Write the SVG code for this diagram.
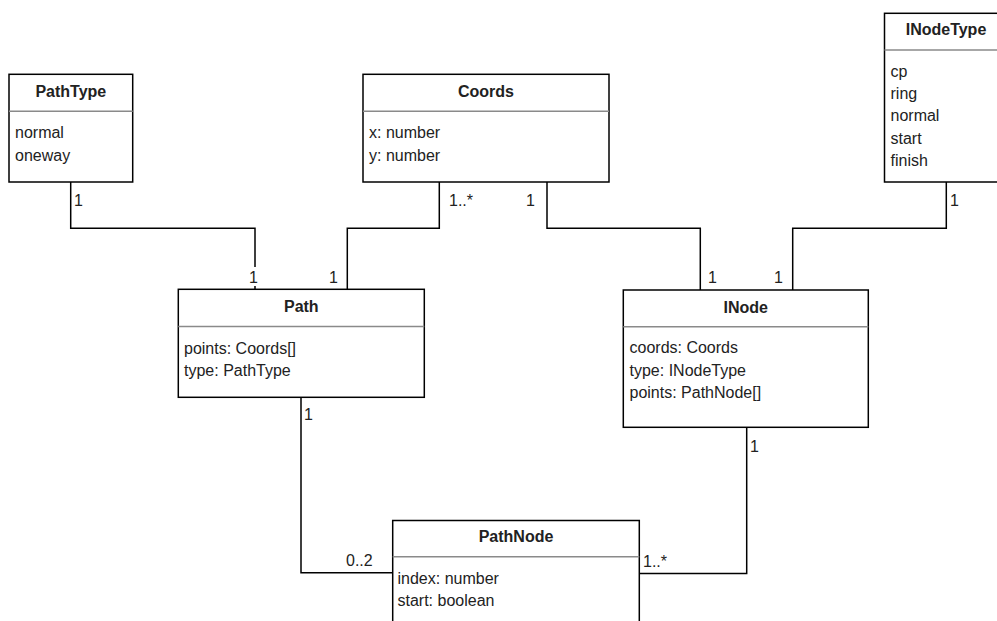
<svg xmlns="http://www.w3.org/2000/svg" width="997" height="621" viewBox="0 0 997 621">
<style>
.box{fill:#fff;stroke:#000;stroke-width:1.5}
.div{stroke:#8a8a8a;stroke-width:1.5}
.title{font-family:"Liberation Sans",Arial,sans-serif;font-size:16px;font-weight:bold;fill:#222;text-anchor:middle}
.attr{font-family:"Liberation Sans",Arial,sans-serif;font-size:16px;fill:#222}
.lbl{font-family:"Liberation Sans",Arial,sans-serif;font-size:16px;fill:#222}
.edge{fill:none;stroke:#000;stroke-width:1.5}
</style>
<rect width="997" height="621" fill="#fff"/>
<g id="connectors">
<path class="edge" d="M70.7,182 V228.3 H255 V289.3"/>
<rect x="248" y="267" width="12" height="19" fill="#fff"/>
<path class="edge" d="M439.3,182 V228.3 H347.3 V289.3"/>
<path class="edge" d="M547,182 V228.3 H700.3 V290"/>
<path class="edge" d="M946.3,182 V228.3 H792.7 V290"/>
<path class="edge" d="M301,397.3 V572.7 H392.7"/>
<path class="edge" d="M746.7,427.3 V573.5 H639.3"/>
<text class="lbl" x="74" y="206">1</text>
<text class="lbl" x="249" y="282.7">1</text>
<text class="lbl" x="449" y="206">1..*</text>
<text class="lbl" x="329" y="282.7">1</text>
<text class="lbl" x="526" y="206">1</text>
<text class="lbl" x="708" y="282.7">1</text>
<text class="lbl" x="950" y="206">1</text>
<text class="lbl" x="774" y="282.7">1</text>
<text class="lbl" x="304" y="420">1</text>
<text class="lbl" x="346" y="566">0..2</text>
<text class="lbl" x="750" y="451.7">1</text>
<text class="lbl" x="643" y="566.7">1..*</text>
</g>
<g id="PathType">
<rect class="box" x="9" y="74.3" width="123.7" height="107.7"/>
<line class="div" x1="9" y1="111.3" x2="132.7" y2="111.3"/>
<text class="title" x="70.8" y="97">PathType</text>
<text class="attr" x="15" y="138.3">normal</text>
<text class="attr" x="15" y="160.7">oneway</text>
</g>
<g id="Coords">
<rect class="box" x="363" y="74.3" width="246" height="107.7"/>
<line class="div" x1="363" y1="111.3" x2="609" y2="111.3"/>
<text class="title" x="486" y="97">Coords</text>
<text class="attr" x="369" y="138.3">x: number</text>
<text class="attr" x="369" y="160.7">y: number</text>
</g>
<g id="INodeType">
<rect class="box" x="884.5" y="13.3" width="124" height="168.7"/>
<line class="div" x1="884.5" y1="50" x2="1008.5" y2="50"/>
<text class="title" x="946" y="35">INodeType</text>
<text class="attr" x="890.5" y="76.5">cp</text>
<text class="attr" x="890.5" y="98.9">ring</text>
<text class="attr" x="890.5" y="121.3">normal</text>
<text class="attr" x="890.5" y="143.7">start</text>
<text class="attr" x="890.5" y="166.1">finish</text>
</g>
<g id="Path">
<rect class="box" x="178.3" y="289.3" width="246" height="108"/>
<line class="div" x1="178.3" y1="326.5" x2="424.3" y2="326.5"/>
<text class="title" x="301.3" y="312">Path</text>
<text class="attr" x="184" y="354">points: Coords[]</text>
<text class="attr" x="184" y="376.4">type: PathType</text>
</g>
<g id="INode">
<rect class="box" x="623.3" y="290" width="245" height="137.3"/>
<line class="div" x1="623.3" y1="326.7" x2="868.3" y2="326.7"/>
<text class="title" x="745.8" y="312.5">INode</text>
<text class="attr" x="629.5" y="353.2">coords: Coords</text>
<text class="attr" x="629.5" y="375.6">type: INodeType</text>
<text class="attr" x="629.5" y="398">points: PathNode[]</text>
</g>
<g id="PathNode">
<rect class="box" x="392.7" y="520.5" width="246.6" height="120"/>
<line class="div" x1="392.7" y1="556.7" x2="639.3" y2="556.7"/>
<text class="title" x="516" y="542">PathNode</text>
<text class="attr" x="397.5" y="584">index: number</text>
<text class="attr" x="397.5" y="606.4">start: boolean</text>
</g>
</svg>
